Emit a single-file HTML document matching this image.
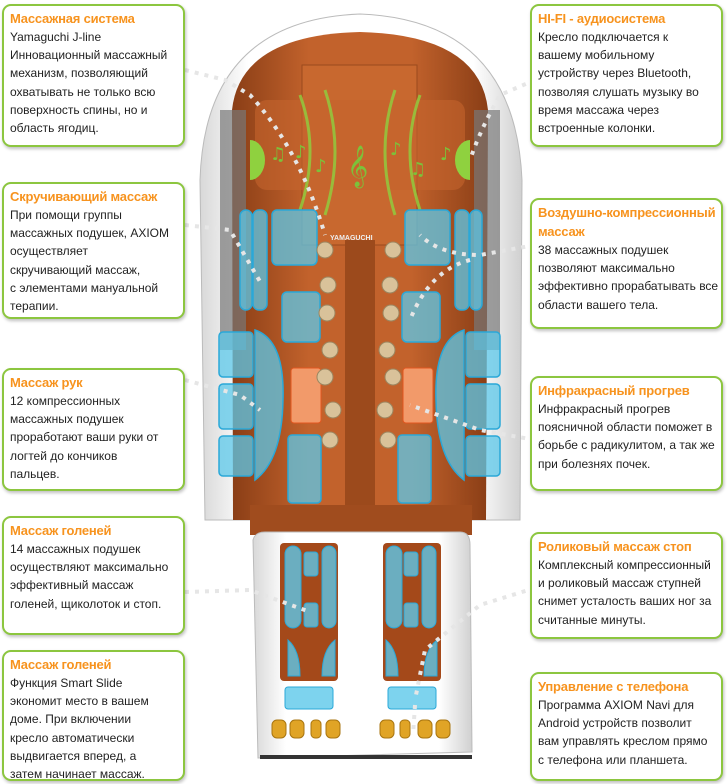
<!DOCTYPE html>
<html><head><meta charset="utf-8"><style>
body{margin:0;width:727px;height:784px;background:#fff;position:relative;overflow:hidden;font-family:"Liberation Sans",Arial,sans-serif}
.b{position:absolute;border:2px solid #8cc63f;border-radius:9px;background:#fff;box-shadow:1px 2px 3px rgba(0,0,0,.25);padding:3px 6px;box-sizing:border-box;font-size:12px;line-height:18.2px;color:#222;white-space:nowrap}
.b h{display:block;color:#f7931e;font-weight:bold;font-size:13px;line-height:19px;letter-spacing:-.2px}
svg{position:absolute;left:0;top:0}
</style></head><body>
<svg width="727" height="784" viewBox="0 0 727 784">
<defs>
<linearGradient id="sh" x1="0" x2="1"><stop offset="0" stop-color="#d8d8d8"/><stop offset=".15" stop-color="#fff"/><stop offset=".85" stop-color="#fff"/><stop offset="1" stop-color="#d0d0d0"/></linearGradient>
<linearGradient id="br" x1="0" x2="1"><stop offset="0" stop-color="#8a3e16"/><stop offset=".3" stop-color="#c2622c"/><stop offset=".7" stop-color="#c2622c"/><stop offset="1" stop-color="#8a3e16"/></linearGradient>
</defs>
<path d="M205 520 L200 180 Q205 20 360 14 Q515 20 522 180 L520 520 Z" fill="url(#sh)" stroke="#bbb"/>
<path d="M233 520 L232 110 Q240 35 360 32 Q480 35 488 110 L486 520 Z" fill="url(#br)"/>
<rect x="220" y="110" width="26" height="240" fill="#777" opacity=".7"/>
<rect x="474" y="110" width="26" height="240" fill="#777" opacity=".7"/>
<rect x="302" y="65" width="115" height="180" fill="#c8682f" stroke="#9a4a1e"/>
<rect x="255" y="100" width="210" height="90" rx="12" fill="#c5642d" opacity=".6"/>
<rect x="345" y="240" width="30" height="270" fill="#9c4a1c"/>
<rect x="250" y="505" width="222" height="30" fill="#a04c1e"/>
<path d="M250 140 a15 20 0 0 1 0 40z" fill="#8fd13f"/><path d="M470 140 a15 20 0 0 0 0 40z" fill="#8fd13f"/>
<g fill="none" stroke="#8fd13f" stroke-width="3" opacity=".8">
<path d="M300 95 Q320 150 300 210"/><path d="M325 90 Q345 150 325 215"/><path d="M420 95 Q400 150 420 210"/><path d="M395 90 Q375 150 395 215"/></g>
<text x="347" y="178" font-size="36" fill="#7cc23a" font-family="DejaVu Sans">𝄞</text>
<g fill="#7cc23a" font-size="18" font-family="DejaVu Sans"><text x="270" y="160">♫</text><text x="295" y="158">♪</text><text x="315" y="172">♪</text><text x="390" y="155">♪</text><text x="410" y="175">♫</text><text x="440" y="160">♪</text></g>
<g fill="#5cc8ea" fill-opacity=".75" stroke="#2aa8d8" stroke-width="1.5">
<rect x="272" y="210" width="45" height="55" rx="5"/><rect x="405" y="210" width="45" height="55" rx="5"/>
<rect x="282" y="292" width="38" height="50" rx="5"/><rect x="402" y="292" width="38" height="50" rx="5"/>
<rect x="240" y="210" width="12" height="100" rx="6"/><rect x="253" y="210" width="14" height="100" rx="6"/>
<rect x="455" y="210" width="14" height="100" rx="6"/><rect x="470" y="210" width="12" height="100" rx="6"/>
<rect x="219" y="332" width="34" height="45" rx="4"/><rect x="219" y="384" width="34" height="45" rx="4"/><rect x="219" y="436" width="34" height="40" rx="4"/>
<rect x="466" y="332" width="34" height="45" rx="4"/><rect x="466" y="384" width="34" height="45" rx="4"/><rect x="466" y="436" width="34" height="40" rx="4"/>
<path d="M255 330 Q285 340 283 400 Q282 460 255 480 Z"/><path d="M464 330 Q434 340 436 400 Q437 460 464 480 Z"/>
<rect x="288" y="435" width="33" height="68" rx="4"/><rect x="398" y="435" width="33" height="68" rx="4"/>
</g>
<g fill="#f29a6a" stroke="#e2571f"><rect x="291" y="368" width="30" height="55" rx="3"/><rect x="403" y="368" width="30" height="55" rx="3"/></g>
<g fill="#d9c29a" stroke="#9c8660"><circle cx="325" cy="250" r="8"/><circle cx="328" cy="285" r="8"/><circle cx="327" cy="313" r="8"/><circle cx="330" cy="350" r="8"/><circle cx="325" cy="377" r="8"/><circle cx="333" cy="410" r="8"/><circle cx="330" cy="440" r="8"/>
<circle cx="393" cy="250" r="8"/><circle cx="390" cy="285" r="8"/><circle cx="391" cy="313" r="8"/><circle cx="387" cy="350" r="8"/><circle cx="393" cy="377" r="8"/><circle cx="385" cy="410" r="8"/><circle cx="388" cy="440" r="8"/></g>
<text x="330" y="240" font-size="7" font-weight="bold" fill="#eee">YAMAGUCHI</text>
<path d="M253 540 Q255 532 265 532 L460 532 Q470 532 470 545 L472 752 L258 758 Z" fill="url(#sh)" stroke="#bbb"/>
<rect x="280" y="543" width="58" height="138" rx="4" fill="#a4491a"/><rect x="383" y="543" width="58" height="138" rx="4" fill="#a4491a"/>
<g fill="#5cc8ea" fill-opacity=".8" stroke="#2aa8d8"><rect x="285" y="546" width="16" height="82" rx="8"/><rect x="304" y="552" width="14" height="24" rx="3"/><rect x="304" y="603" width="14" height="24" rx="3"/><rect x="322" y="546" width="14" height="82" rx="7"/>
<rect x="386" y="546" width="16" height="82" rx="8"/><rect x="404" y="552" width="14" height="24" rx="3"/><rect x="404" y="603" width="14" height="24" rx="3"/><rect x="422" y="546" width="14" height="82" rx="7"/>
<path d="M288 640 Q300 650 300 676 L288 676Z"/><path d="M335 640 Q322 650 322 676 L335 676Z"/><path d="M386 640 Q398 650 398 676 L386 676Z"/><path d="M437 640 Q424 650 424 676 L437 676Z"/>
<rect x="285" y="687" width="48" height="22" rx="3"/><rect x="388" y="687" width="48" height="22" rx="3"/></g>
<g fill="#e0a426" stroke="#a87510"><rect x="272" y="720" width="14" height="18" rx="5"/><rect x="290" y="720" width="14" height="18" rx="5"/><rect x="311" y="720" width="10" height="18" rx="4"/><rect x="326" y="720" width="14" height="18" rx="5"/>
<rect x="380" y="720" width="14" height="18" rx="5"/><rect x="400" y="720" width="10" height="18" rx="4"/><rect x="418" y="720" width="14" height="18" rx="5"/><rect x="436" y="720" width="14" height="18" rx="5"/></g>
<rect x="260" y="755" width="212" height="4" fill="#333"/>
<g fill="none" stroke="#e6e6e6" stroke-width="4" stroke-dasharray="4 6">
<path d="M185 70 L225 80 L250 95 Q300 150 325 235"/>
<path d="M535 80 L500 95 Q480 130 470 160"/>
<path d="M185 225 L230 230 L262 285"/>
<path d="M535 245 L480 255 Q440 255 420 235"/><path d="M470 260 Q430 270 410 320"/>
<path d="M185 380 L240 395 L260 410"/>
<path d="M535 440 L480 430 L410 405"/>
<path d="M185 592 L250 590 L310 612"/>
<path d="M535 588 L480 605 L425 650 L415 700"/>
<path d="M415 705 L413 735"/>
</g>
</svg>
<div class="b" style="left:2px;top:4px;width:183px;height:143px"><h>Массажная система</h>Yamaguchi J-line<br>Инновационный массажный<br>механизм, позволяющий<br>охватывать не только всю<br>поверхность спины, но и<br>область ягодиц.</div>
<div class="b" style="left:2px;top:182px;width:183px;height:137px"><h>Скручивающий массаж</h>При помощи группы<br>массажных подушек, AXIOM<br>осуществляет<br>скручивающий массаж,<br>с элементами мануальной<br>терапии.</div>
<div class="b" style="left:2px;top:368px;width:183px;height:123px"><h>Массаж рук</h>12 компрессионных<br>массажных подушек<br>проработают ваши руки от<br>логтей до кончиков<br>пальцев.</div>
<div class="b" style="left:2px;top:516px;width:183px;height:119px"><h>Массаж голеней</h>14 массажных подушек<br>осуществляют максимально<br>эффективный массаж<br>голеней, щиколоток и стоп.</div>
<div class="b" style="left:2px;top:650px;width:183px;height:131px"><h>Массаж голеней</h>Функция Smart Slide<br>экономит место в вашем<br>доме. При включении<br>кресло автоматически<br>выдвигается вперед, а<br>затем начинает массаж.</div>
<div class="b" style="left:530px;top:4px;width:193px;height:143px"><h>HI-FI - аудиосистема</h>Кресло подключается к<br>вашему мобильному<br>устройству через Bluetooth,<br>позволяя слушать музыку во<br>время массажа через<br>встроенные колонки.</div>
<div class="b" style="left:530px;top:198px;width:193px;height:131px"><h>Воздушно-компрессионный<br>массаж</h>38 массажных подушек<br>позволяют максимально<br>эффективно прорабатывать все<br>области вашего тела.</div>
<div class="b" style="left:530px;top:376px;width:193px;height:115px"><h>Инфракрасный прогрев</h>Инфракрасный прогрев<br>поясничной области поможет в<br>борьбе с радикулитом, а так же<br>при болезнях почек.</div>
<div class="b" style="left:530px;top:532px;width:193px;height:107px"><h>Роликовый массаж стоп</h>Комплексный компрессионный<br>и роликовый массаж ступней<br>снимет усталость ваших ног за<br>считанные минуты.</div>
<div class="b" style="left:530px;top:672px;width:193px;height:109px"><h>Управление с телефона</h>Программа AXIOM Navi для<br>Android устройств позволит<br>вам управлять креслом прямо<br>с телефона или планшета.</div>
</body></html>
